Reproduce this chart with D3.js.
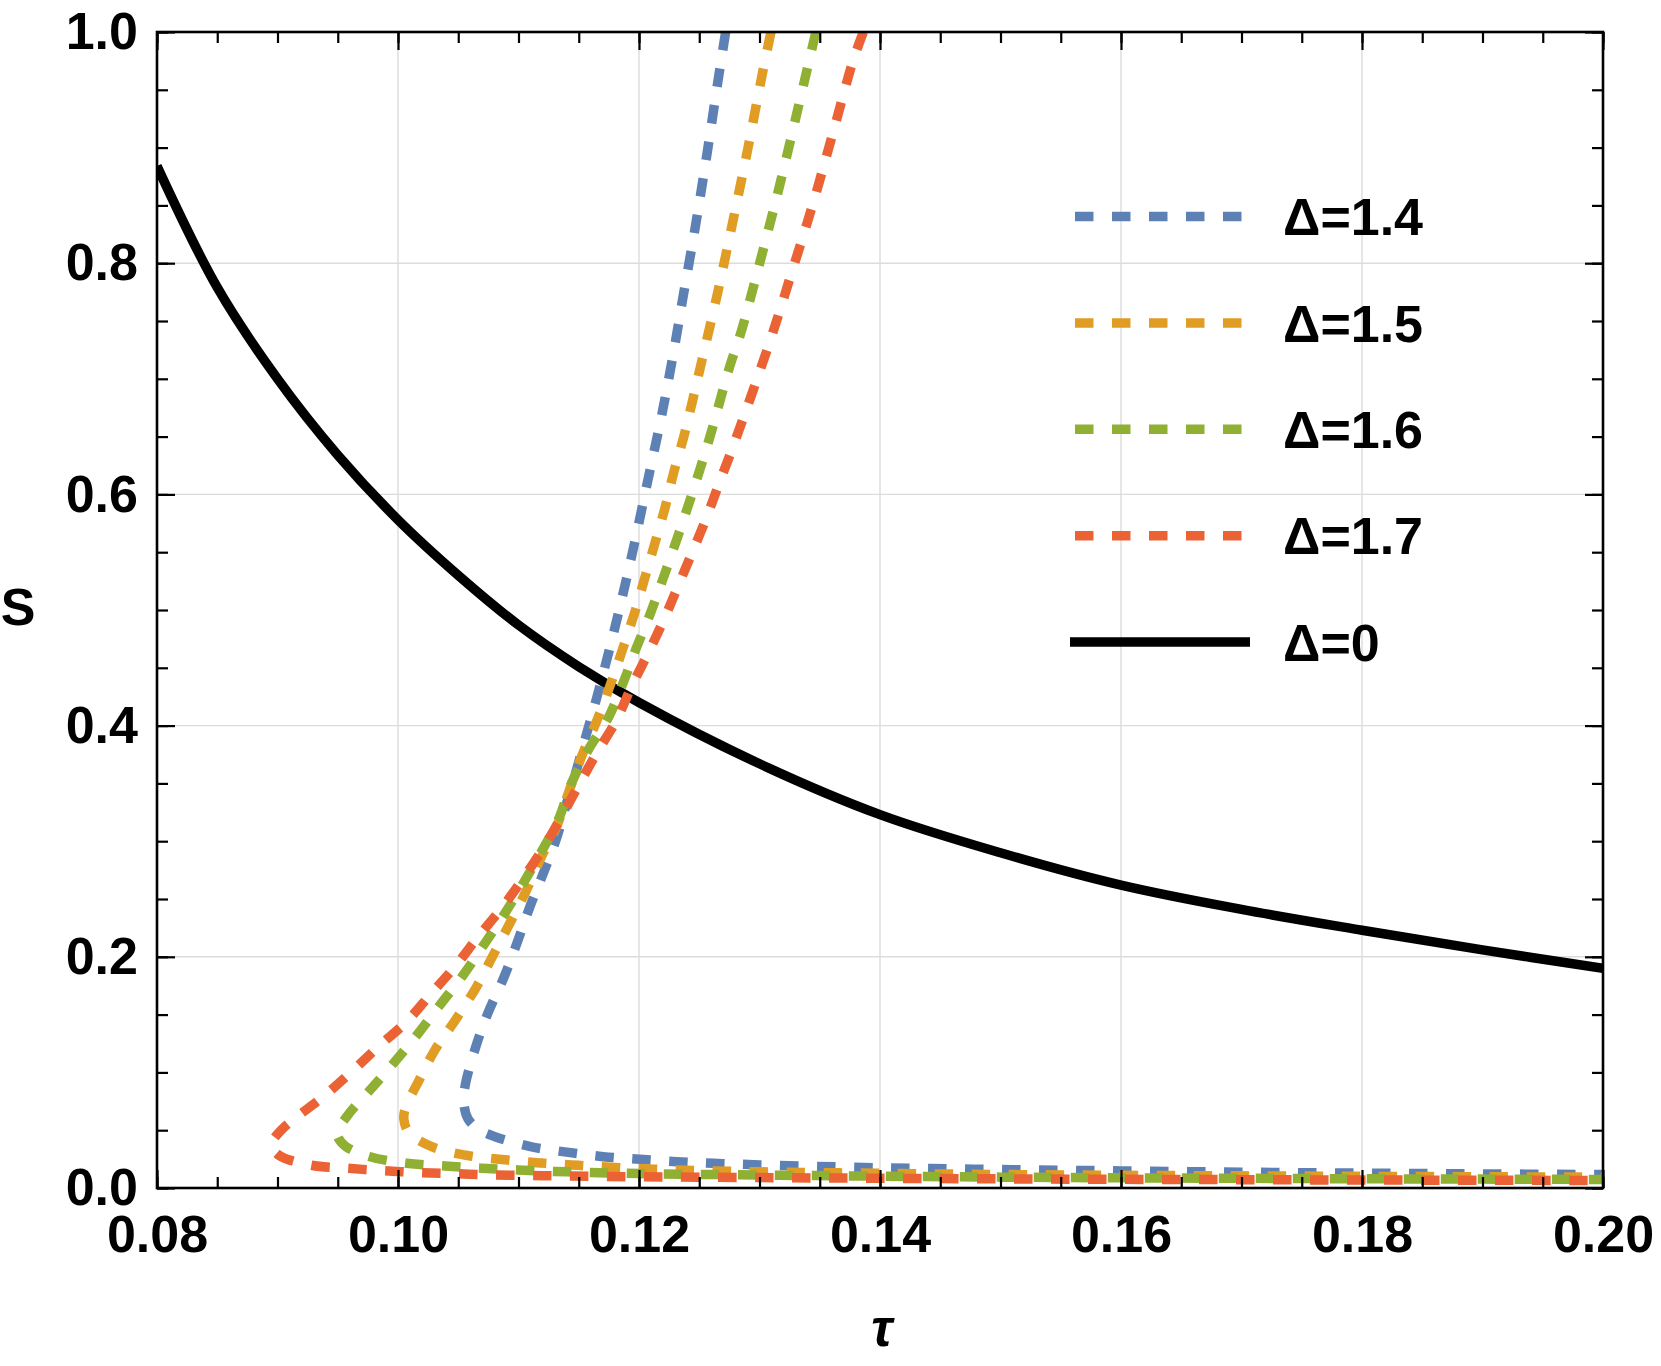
<!DOCTYPE html>
<html>
<head>
<meta charset="utf-8">
<script src="https://cdn.jsdelivr.net/npm/d3@7"></script>
<style>
  body { margin: 0; background: #fff; }
  svg text { font-family: "Liberation Sans", Arial, sans-serif; font-weight: bold; }
</style>
</head>
<body>
<svg id="chart" width="1661" height="1366"></svg>
<script>
// axis ticks
var xMajor = [0.08, 0.10, 0.12, 0.14, 0.16, 0.18, 0.20];
var yMajor = [0.0, 0.2, 0.4, 0.6, 0.8, 1.0];
var xGrid = [0.10, 0.12, 0.14, 0.16, 0.18];
var yGrid = [0.2, 0.4, 0.6, 0.8];

// Delta = 0 (solid black), [tau, S]
var delta0 = [
  [0.080, 0.884], [0.085, 0.779], [0.090, 0.700], [0.095, 0.634], [0.100, 0.578],
  [0.105, 0.530], [0.110, 0.487], [0.115, 0.451], [0.120, 0.420], [0.130, 0.367],
  [0.140, 0.323], [0.150, 0.290], [0.160, 0.262], [0.170, 0.241], [0.180, 0.223],
  [0.190, 0.206], [0.200, 0.190]
];

// Delta = 1.4
var delta14 = [
  [0.12719, 1.0], [0.12653, 0.956], [0.12562, 0.893], [0.12465, 0.830], [0.12359, 0.767],
  [0.12304, 0.733], [0.12197, 0.673], [0.12069, 0.610], [0.11942, 0.548], [0.11803, 0.486],
  [0.11649, 0.424], [0.11568, 0.394], [0.11485, 0.363], [0.11397, 0.332], [0.11311, 0.301],
  [0.11201, 0.271], [0.11090, 0.242], [0.10988, 0.212], [0.10878, 0.182], [0.10745, 0.151],
  [0.10645, 0.122], [0.10560, 0.090], [0.10545, 0.075], [0.10580, 0.060], [0.10665, 0.051],
  [0.10805, 0.0444], [0.11100, 0.0358], [0.11400, 0.0310], [0.11704, 0.0271], [0.12008, 0.0248],
  [0.12313, 0.0228], [0.12617, 0.0214], [0.130, 0.0200], [0.140, 0.0175], [0.150, 0.0160],
  [0.160, 0.0148], [0.170, 0.0137], [0.180, 0.0129], [0.190, 0.0122], [0.200, 0.0116]
];

// Delta = 1.5
var delta15 = [
  [0.13095, 1.0], [0.13023, 0.9636], [0.12907, 0.9010], [0.12783, 0.8383], [0.12656, 0.7760],
  [0.12520, 0.7150], [0.12445, 0.6814], [0.12373, 0.6505], [0.12290, 0.6197], [0.12216, 0.5885],
  [0.12133, 0.5582], [0.12047, 0.5273], [0.11961, 0.4967], [0.11865, 0.4664], [0.11773, 0.4384],
  [0.11655, 0.4055], [0.11524, 0.3734], [0.11414, 0.3417], [0.11317, 0.3128], [0.11192, 0.2868],
  [0.11068, 0.2580], [0.10929, 0.2292], [0.10791, 0.2017], [0.10653, 0.1743], [0.10487, 0.1469],
  [0.10307, 0.1195], [0.10169, 0.0920], [0.10065, 0.0700], [0.10048, 0.0600], [0.10090, 0.0480],
  [0.10280, 0.0358], [0.10583, 0.0280], [0.10888, 0.0244], [0.11192, 0.0216], [0.11496, 0.0196],
  [0.1180, 0.0178], [0.1212, 0.0163], [0.125, 0.0150], [0.130, 0.0140], [0.140, 0.0127],
  [0.150, 0.0117], [0.160, 0.0110], [0.170, 0.0105], [0.180, 0.0101], [0.190, 0.0097],
  [0.200, 0.0094]
];

// Delta = 1.6
var delta16 = [
  [0.13468, 1.0], [0.13441, 0.9881], [0.13300, 0.9253], [0.13156, 0.8626], [0.13004, 0.8011],
  [0.12844, 0.7394], [0.12750, 0.7097], [0.12584, 0.6482], [0.12396, 0.5864], [0.12197, 0.5264],
  [0.12091, 0.4961], [0.11975, 0.4664], [0.11870, 0.4375], [0.11745, 0.4067], [0.11580, 0.3792],
  [0.11441, 0.3504], [0.11331, 0.3186], [0.11192, 0.2912], [0.11040, 0.2638], [0.10888, 0.2378],
  [0.10722, 0.2119], [0.10542, 0.1844], [0.10349, 0.1584], [0.10169, 0.1339], [0.09975, 0.1094],
  [0.09782, 0.0863], [0.09574, 0.0617], [0.09495, 0.0470], [0.09560, 0.0365], [0.09768, 0.0271],
  [0.10072, 0.0214], [0.10390, 0.0190], [0.10695, 0.0171], [0.10998, 0.0156], [0.1130, 0.0143],
  [0.1160, 0.0134], [0.120, 0.0125], [0.130, 0.0112], [0.140, 0.0102], [0.150, 0.0094],
  [0.160, 0.0088], [0.170, 0.0084], [0.180, 0.0080], [0.190, 0.0077], [0.200, 0.0074]
];

// Delta = 1.7
var delta17 = [
  [0.13862, 1.0], [0.13779, 0.9760], [0.13613, 0.9140], [0.13447, 0.8526], [0.13267, 0.7919],
  [0.13081, 0.7307], [0.12772, 0.6390], [0.12667, 0.6101], [0.12562, 0.5804], [0.12446, 0.5509],
  [0.12326, 0.5212], [0.12207, 0.4918], [0.12077, 0.4629], [0.11939, 0.4340], [0.11815, 0.4052],
  [0.11649, 0.3763], [0.11510, 0.3504], [0.11358, 0.3215], [0.11206, 0.2941], [0.11040, 0.2681],
  [0.10861, 0.2422], [0.10667, 0.2176], [0.10473, 0.1916], [0.10266, 0.1671], [0.10072, 0.1440],
  [0.09837, 0.1223], [0.09616, 0.1007], [0.09380, 0.0790], [0.09145, 0.0603], [0.09040, 0.0510],
  [0.08950, 0.0375], [0.09010, 0.0285], [0.09270, 0.0199], [0.09574, 0.0171], [0.09878, 0.0150],
  [0.10183, 0.0133], [0.10487, 0.0123], [0.10791, 0.0113], [0.1110, 0.0108], [0.1140, 0.0104],
  [0.120, 0.0097], [0.130, 0.0090], [0.140, 0.0084], [0.150, 0.0079], [0.160, 0.0075],
  [0.170, 0.0072], [0.180, 0.0069], [0.190, 0.0067], [0.200, 0.0065]
];

var seriesNames = ["\u0394=1.4", "\u0394=1.5", "\u0394=1.6", "\u0394=1.7", "\u0394=0"];
var seriesColors = ["#5E81B5", "#E19C24", "#8FB032", "#EB6235", "#000000"];

var svg = d3.select("#chart");
var padL = 157, padR = 1603, padT = 32, padB = 1188;

var x = d3.scaleLinear().domain([0.08, 0.20]).range([padL, padR]);
var y = d3.scaleLinear().domain([0, 1]).range([padB, padT]);

// grid lines
svg.append("g").selectAll("line").data(xGrid).enter().append("line")
  .attr("x1", d => x(d)).attr("x2", d => x(d))
  .attr("y1", padT).attr("y2", padB)
  .attr("stroke", "#dcdcdc").attr("stroke-width", 1.4);
svg.append("g").selectAll("line").data(yGrid).enter().append("line")
  .attr("x1", padL).attr("x2", padR)
  .attr("y1", d => y(d)).attr("y2", d => y(d))
  .attr("stroke", "#dcdcdc").attr("stroke-width", 1.4);

// curves
svg.append("clipPath").attr("id", "plotclip")
  .append("rect").attr("x", padL).attr("y", padT)
  .attr("width", padR - padL).attr("height", padB - padT);

var line = d3.line()
  .x(d => x(d[0]))
  .y(d => y(d[1]))
  .curve(d3.curveCatmullRom.alpha(0.5));

var plot = svg.append("g").attr("clip-path", "url(#plotclip)");

plot.append("path").datum(delta0)
  .attr("d", line).attr("fill", "none")
  .attr("stroke", "#000").attr("stroke-width", 9.5);

[delta14, delta15, delta16, delta17].forEach((data, i) => {
  plot.append("path").datum(data)
    .attr("d", line).attr("fill", "none")
    .attr("stroke", seriesColors[i]).attr("stroke-width", 9.5)
    .attr("stroke-dasharray", "18.5 18.5");
});

// axes (ticks pointing inward)
var xMinor = d3.range(0.08, 0.2001, 0.005).map(v => +v.toFixed(3));
var yMinor = d3.range(0, 1.0001, 0.05).map(v => +v.toFixed(2));

function styleAxis(g) {
  g.select(".domain").remove();
  g.selectAll(".tick line").attr("stroke", "#000").attr("stroke-width", 2.2);
  g.selectAll(".tick text").attr("fill", "#000").style("font-size", "52px");
}

svg.append("g").attr("transform", `translate(0,${padB})`)
  .call(d3.axisBottom(x).tickValues(xMinor).tickSize(-11).tickFormat(""))
  .call(styleAxis);
svg.append("g").attr("transform", `translate(0,${padB})`)
  .call(d3.axisBottom(x).tickValues(xMajor).tickSize(-18).tickPadding(27).tickFormat(d3.format(".2f")))
  .call(styleAxis);
svg.append("g").attr("transform", `translate(0,${padT})`)
  .call(d3.axisTop(x).tickValues(xMinor).tickSize(-11).tickFormat(""))
  .call(styleAxis);
svg.append("g").attr("transform", `translate(0,${padT})`)
  .call(d3.axisTop(x).tickValues(xMajor).tickSize(-18).tickFormat(""))
  .call(styleAxis);

svg.append("g").attr("transform", `translate(${padL},0)`)
  .call(d3.axisLeft(y).tickValues(yMinor).tickSize(-11).tickFormat(""))
  .call(styleAxis);
svg.append("g").attr("transform", `translate(${padL},0)`)
  .call(d3.axisLeft(y).tickValues(yMajor).tickSize(-18).tickPadding(19).tickFormat(d3.format(".1f")))
  .call(styleAxis);
svg.append("g").attr("transform", `translate(${padR},0)`)
  .call(d3.axisRight(y).tickValues(yMinor).tickSize(-11).tickFormat(""))
  .call(styleAxis);
svg.append("g").attr("transform", `translate(${padR},0)`)
  .call(d3.axisRight(y).tickValues(yMajor).tickSize(-18).tickFormat(""))
  .call(styleAxis);

// frame
svg.append("rect")
  .attr("x", padL).attr("y", padT)
  .attr("width", padR - padL).attr("height", padB - padT)
  .attr("fill", "none").attr("stroke", "#000").attr("stroke-width", 2.6);

// axis titles
svg.append("text").attr("x", 18).attr("y", 607).attr("dy", "0.35em")
  .attr("text-anchor", "middle").style("font-size", "52px").text("S");
svg.append("text").attr("x", 882).attr("y", 1346)
  .attr("text-anchor", "middle").style("font-size", "52px")
  .style("font-style", "italic").text("\u03C4");

// legend
var legend = svg.append("g");
seriesNames.forEach((name, i) => {
  var ly = 216.5 + i * 106.4;
  var solid = i === 4;
  legend.append("line")
    .attr("x1", solid ? 1070 : 1075).attr("x2", solid ? 1250 : 1241.5)
    .attr("y1", ly).attr("y2", ly)
    .attr("stroke", seriesColors[i]).attr("stroke-width", 9.5)
    .attr("stroke-dasharray", solid ? null : "18.5 18.5");
  legend.append("text")
    .attr("x", 1283).attr("y", ly).attr("dy", "0.36em")
    .style("font-size", "52px").text(name);
});
</script>
</body>
</html>
